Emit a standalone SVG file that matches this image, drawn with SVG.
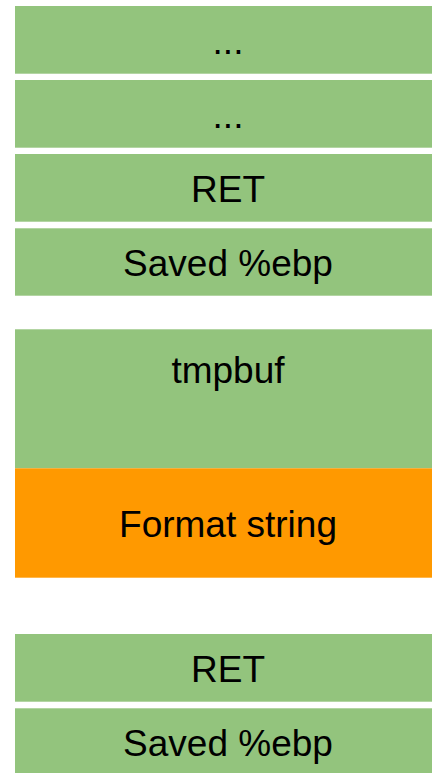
<svg xmlns="http://www.w3.org/2000/svg" width="432" height="773" viewBox="0 0 432 773">
  <style>
    .slot { fill: #93c47d; }
    .fmt { fill: #ff9900; }
    .lbl { font-family: "Liberation Sans", Arial, sans-serif; font-size: 37px; fill: #000; text-anchor: middle; }
  </style>
  <rect width="432" height="773" fill="#ffffff"/>
  <!-- upper stack frame -->
  <g id="dots1"><rect class="slot" x="15" y="6" width="427" height="67.7"/><text class="lbl" x="228" y="54">...</text></g>
  <g id="dots2"><rect class="slot" x="15" y="80" width="427" height="67.7"/><text class="lbl" x="228" y="128">...</text></g>
  <g id="ret1"><rect class="slot" x="15" y="154" width="427" height="67.7"/><text class="lbl" x="228" y="202.3">RET</text></g>
  <g id="ebp1"><rect class="slot" x="15" y="228.3" width="427" height="67.4"/><text class="lbl" x="228" y="276">Saved %ebp</text></g>
  <!-- local buffer with format string -->
  <g id="tmpbuf"><rect class="slot" x="15" y="329.3" width="427" height="139"/><text class="lbl" x="228" y="383.3">tmpbuf</text></g>
  <g id="format"><rect class="fmt" x="15" y="468.3" width="427" height="109.4"/><text class="lbl" x="228" y="537.3">Format string</text></g>
  <!-- lower stack frame -->
  <g id="ret2"><rect class="slot" x="15" y="634" width="427" height="67.7"/><text class="lbl" x="228" y="682.3">RET</text></g>
  <g id="ebp2"><rect class="slot" x="15" y="708.3" width="427" height="64.7"/><text class="lbl" x="228" y="756">Saved %ebp</text></g>
  <g id="connectors"/>
</svg>
